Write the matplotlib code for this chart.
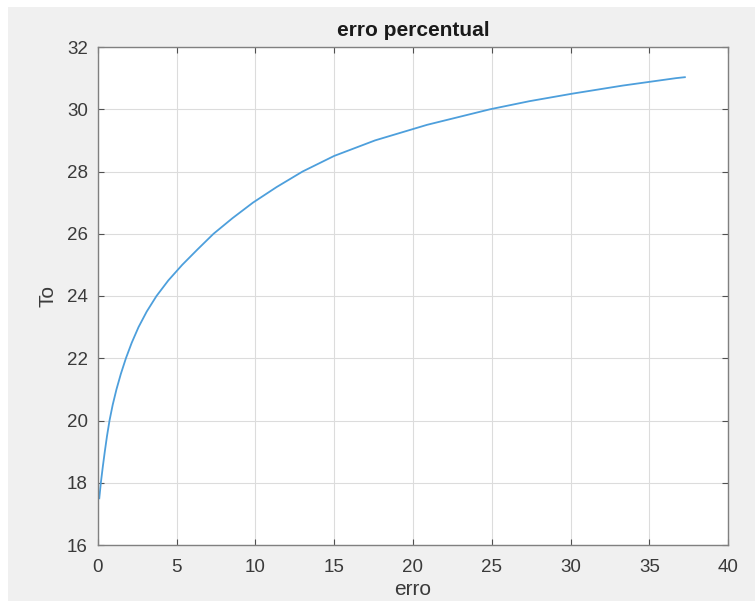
import matplotlib.pyplot as plt
from matplotlib.patches import Rectangle

plt.rcParams['font.family'] = ['Liberation Sans', 'DejaVu Sans']

# erro vs To
erro = [0.1, 0.2, 0.32, 0.45, 0.59, 0.75, 0.95, 1.19, 1.47, 1.79, 2.16, 2.59, 3.11, 3.73,
        4.48, 5.36, 6.34, 7.35, 8.55, 9.85, 11.35, 13.0, 15.0, 17.6, 20.9, 24.9, 27.4,
        30.1, 33.3, 36.7, 37.25]
To = [17.5, 18.0, 18.5, 19.0, 19.5, 20.0, 20.5, 21.0, 21.5, 22.0, 22.5, 23.0, 23.5, 24.0,
      24.5, 25.0, 25.5, 26.0, 26.5, 27.0, 27.5, 28.0, 28.5, 29.0, 29.5, 30.0, 30.26,
      30.5, 30.76, 31.0, 31.03]

xticks = [0, 5, 10, 15, 20, 25, 30, 35, 40]
yticks = [16, 18, 20, 22, 24, 26, 28, 30, 32]

fig = plt.figure(figsize=(7.55, 6.01), dpi=100, facecolor='#f0f0f0')
# thin white strips along the top and left edge
fig.patches.append(Rectangle((0, 1 - 7 / 601), 1, 7 / 601, transform=fig.transFigure,
                             facecolor='white', edgecolor='none'))
fig.patches.append(Rectangle((0, 0), 8 / 755, 1, transform=fig.transFigure,
                             facecolor='white', edgecolor='none'))

ax = fig.add_axes([97.7 / 755, 56 / 601, 630.5 / 755, 498 / 601])
ax.set_facecolor('white')
ax.plot(erro, To, color='#4d9fdc', linewidth=1.3, solid_joinstyle='round')

ax.set_xlim(0, 40)
ax.set_ylim(16, 32)
ax.set_xticks(xticks)
ax.set_yticks(yticks)
ax.grid(True, color='#dcdcdc', linewidth=0.8)
ax.set_axisbelow(True)

for s in ax.spines.values():
    s.set_color('#808080')
    s.set_linewidth(1.0)
ax.tick_params(direction='in', length=4, width=0.8, color='#505050',
               top=True, right=True, labelsize=13.5, labelcolor='#3a3a3a', pad=7)
ax.tick_params(axis='x', pad=10)

ax.set_title('erro percentual', fontsize=15, fontweight='bold', color='#1a1a1a', pad=8)
ax.set_xlabel('erro', fontsize=15, color='#3a3a3a', labelpad=3)
ax.set_ylabel('To', fontsize=15, color='#3a3a3a', labelpad=7)

fig.savefig('out.png', dpi=100, facecolor=fig.get_facecolor())
